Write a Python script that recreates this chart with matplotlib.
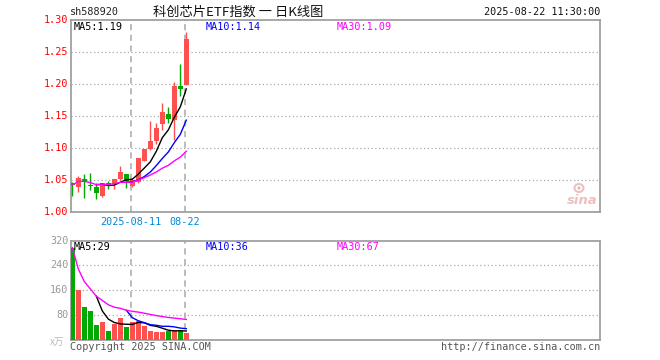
import matplotlib
matplotlib.use('Agg')
import matplotlib.pyplot as plt
from matplotlib.patches import Ellipse
import numpy as np
import pandas as pd

# ---------------- data ----------------
dates = ['2025-07-28', '2025-07-29', '2025-07-30', '2025-07-31', '2025-08-01',
         '2025-08-04', '2025-08-05', '2025-08-06', '2025-08-07', '2025-08-08',
         '2025-08-11', '2025-08-12', '2025-08-13', '2025-08-14', '2025-08-15',
         '2025-08-18', '2025-08-19', '2025-08-20', '2025-08-21', '2025-08-22']
opens = [1.0458, 1.0396, 1.051, 1.042, 1.039, 1.0255, 1.046, 1.044, 1.052, 1.0594,
         1.041, 1.047, 1.080, 1.0979, 1.111, 1.1375, 1.153, 1.1437, 1.1968, 1.1984]
closes = [1.042, 1.0536, 1.048, 1.040, 1.030, 1.0448, 1.044, 1.0516, 1.0625, 1.048,
          1.050, 1.0844, 1.0985, 1.1109, 1.1307, 1.1562, 1.1448, 1.1974, 1.1927, 1.2703]
highs = [1.047, 1.0563, 1.059, 1.061, 1.045, 1.0448, 1.049, 1.052, 1.072, 1.0594,
         1.051, 1.0844, 1.0985, 1.1427, 1.1385, 1.170, 1.1635, 1.2026, 1.2318, 1.2818]
lows = [1.0255, 1.032, 1.022, 1.035, 1.020, 1.0229, 1.0365, 1.0365, 1.0495, 1.038,
        1.039, 1.0448, 1.079, 1.097, 1.107, 1.128, 1.1396, 1.1125, 1.1817, 1.1984]
volumes = [297, 160, 107, 93, 48, 59, 29, 52, 71, 42,
           57, 61, 45, 30, 27, 27, 29, 33, 32, 24]

marked_dates = ['2025-08-11', '2025-08-22']
marked_labels = ['2025-08-11', '08-22']
price_ticks = [1.00, 1.05, 1.10, 1.15, 1.20, 1.25, 1.30]
price_ticklabels = ['1.00', '1.05', '1.10', '1.15', '1.20', '1.25', '1.30']
vol_ticks = [0, 80, 160, 240, 320]
vol_ticklabels = ['x万', '80', '160', '240', '320']
price_ma_labels = ['MA5:1.19', 'MA10:1.14', 'MA30:1.09']
vol_ma_labels = ['MA5:29', 'MA10:36', 'MA30:67']
code = 'sh588920'
title = '科创芯片ETF指数 一 日K线图'
timestamp = '2025-08-22 11:30:00'

# ---------------- derived ----------------
x = np.arange(len(dates))
cl = pd.Series(closes)
vo = pd.Series(volumes, dtype=float)
p_ma5 = cl.rolling(5).mean()
p_ma10 = cl.rolling(10).mean()
p_ma30 = cl.expanding().mean()
v_ma5 = vo.rolling(5).mean()
v_ma10 = vo.rolling(10).mean()
v_ma30 = vo.expanding().mean()

RED = '#ff5050'
GREEN = '#00aa00'
FRAME = '#a0a0a0'
GRID = '#a8a8a8'
MONO = 'DejaVu Sans Mono'

W, H = 660, 360
fig = plt.figure(figsize=(6.6, 3.6), dpi=100)
fig.patch.set_facecolor('white')

L, R = 71, 600
ax = fig.add_axes([L / W, 1 - 212 / H, (R - L) / W, (212 - 20) / H])
axv = fig.add_axes([L / W, 1 - 340 / H, (R - L) / W, (340 - 240.5) / H])

xlim = (-0.22, 87.95)
up = [c >= o for o, c in zip(opens, closes)]
cols = [RED if u else GREEN for u in up]

# candles
bw = 0.8
for i in x:
    ax.vlines(i, lows[i], highs[i], color=cols[i], lw=1.0, zorder=3)
    lo, hi = min(opens[i], closes[i]), max(opens[i], closes[i])
    hgt = max(hi - lo, 0.0012)
    ax.bar(i, hgt, bottom=lo, width=bw, color=cols[i], lw=0, zorder=4)

ax.plot(x, p_ma5, color='black', lw=1.0, zorder=5)
ax.plot(x, p_ma10, color='#0000ff', lw=1.0, zorder=5)
ax.plot(x, p_ma30, color='#ff00ff', lw=1.0, zorder=5)

# volume
axv.bar(x, volumes, width=bw, color=cols, lw=0, zorder=3)
axv.plot(x, v_ma5, color='black', lw=1.0, zorder=5)
axv.plot(x, v_ma10, color='#0000ff', lw=1.0, zorder=5)
axv.plot(x, v_ma30, color='#ff00ff', lw=1.0, zorder=5)

mark_idx = [dates.index(d) for d in marked_dates]

for a, ylim, gticks in [(ax, (1.00, 1.30), price_ticks[1:-1]),
                        (axv, (0, 320), vol_ticks[1:-1])]:
    a.set_xlim(*xlim)
    a.set_ylim(*ylim)
    a.set_xticks([])
    a.set_yticks([])
    for s in a.spines.values():
        s.set_color(FRAME)
        s.set_linewidth(1.3)
    for g in gticks:
        a.axhline(g, color=GRID, lw=0.9, ls=(0, (1, 2)), zorder=1)
    for m in mark_idx:
        a.axvline(m - 0.3, color=GRID, lw=1.1, ls=(0, (4, 3)), zorder=1)

# y tick labels
for t, lab in zip(price_ticks, price_ticklabels):
    ax.text(-0.005, (t - 1.00) / 0.30, lab, transform=ax.transAxes, ha='right',
            va='center', color='#ff0000', fontsize=7.3, family=MONO)
for t, lab in zip(vol_ticks, vol_ticklabels):
    if lab == 'x万':
        axv.text(-0.012, (t) / 320 - 0.02, lab, transform=axv.transAxes, ha='right',
                 va='center', color='#bbbbbb', fontsize=7,
                 family=['Noto Sans CJK SC', 'DejaVu Sans'])
    else:
        axv.text(-0.005, t / 320, lab, transform=axv.transAxes, ha='right',
                 va='center', color='#999999', fontsize=7.3, family=MONO)

# date labels
for m, lab in zip(mark_idx, marked_labels):
    fig.text((L + (m + 0.22) * 6.0 - 1.5) / W, 1 - 222 / H, lab, ha='center',
             va='center', color='#0088dd', fontsize=7.3, family=MONO)

# MA labels
ma_cols = ['black', '#0000ff', '#ff00ff']
ma_x = [74, 206, 337]
for lab, c, xx in zip(price_ma_labels, ma_cols, ma_x):
    fig.text(xx / W, 1 - 27 / H, lab, ha='left', va='center', color=c,
             fontsize=7.3, family=MONO)
for lab, c, xx in zip(vol_ma_labels, ma_cols, ma_x):
    fig.text(xx / W, 1 - 247.5 / H, lab, ha='left', va='center', color=c,
             fontsize=7.3, family=MONO)

# header
fig.text(70 / W, 1 - 12 / H, code, ha='left', va='center', color='#222222',
         fontsize=7.3, family=MONO)
fig.text(238 / W, 1 - 12.5 / H, title, ha='center', va='center', color='#111111',
         fontsize=9.5, family=['Noto Sans CJK SC', 'DejaVu Sans'])
fig.text(600 / W, 1 - 12 / H, timestamp, ha='right', va='center', color='#111111',
         fontsize=7.3, family=MONO)

# footer
fig.text(70 / W, 1 - 347.5 / H, 'Copyright 2025 SINA.COM', ha='left', va='center',
         color='#555555', fontsize=7.3, family=MONO)
fig.text(600 / W, 1 - 347.5 / H, 'http://finance.sina.com.cn', ha='right',
         va='center', color='#555555', fontsize=7.3, family=MONO)

# sina watermark
fig.text(582 / W, 1 - 200 / H, 'sina', ha='center', va='center', color='#eab0b0',
         fontsize=9.5, fontweight='bold', fontstyle='italic', family='DejaVu Sans',
         alpha=0.8)
fig.patches.append(Ellipse((579 / W, 1 - 188 / H), 9 / W, 8 / H,
                           transform=fig.transFigure, facecolor='none',
                           edgecolor='#eab0b0', lw=1.5, alpha=0.8))
fig.patches.append(Ellipse((579 / W, 1 - 188 / H), 3 / W, 3 / H,
                           transform=fig.transFigure, facecolor='#d8a0a0',
                           edgecolor='none', alpha=0.8))

fig.savefig('out.png', dpi=100, facecolor='white')
